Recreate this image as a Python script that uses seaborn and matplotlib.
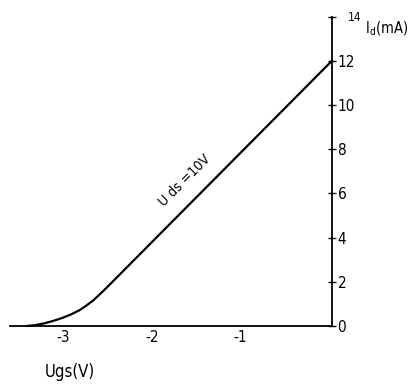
import numpy as np
import matplotlib
matplotlib.use("Agg")
import matplotlib.pyplot as plt
import matplotlib.transforms as mtransforms
import seaborn as sns

# transfer characteristic
ugs = [-3.45, -3.35, -3.25, -3.15, -3.05, -2.95, -2.85, -2.78, -2.70, -2.63,
       -2.56, -2.50, 0.0]
id_ma = [0.0, 0.04, 0.12, 0.23, 0.36, 0.52, 0.72, 0.91, 1.15, 1.41,
         1.68, 1.92, 12.0]

x_ticks = [-3.5, -3.0, -2.5, -2.0, -1.5, -1.0, -0.5]
x_labels = ["", "-3", "", "-2", "", "-1", ""]
y_ticks = [0, 2, 4, 6, 8, 10, 12, 14]
y_labels = ["0", "2", "4", "6", "8", "10", "12", ""]

sns.set_style("white")
plt.rcParams['font.family'] = ['DejaVu Sans']
plt.rcParams['font.stretch'] = 'condensed'
plt.rcParams['text.color'] = 'black'

fig = plt.figure(figsize=(4.11, 3.85), dpi=100)
ax = fig.add_axes([0, 0, 1, 1])
ax.patch.set_alpha(0)

sns.lineplot(x=ugs, y=id_ma, color='black', linewidth=1.6, ax=ax)

ax.set_xlim(-3.751, 0.893)
ax.set_ylim(-2.67, 14.75)

ax.spines['top'].set_visible(False)
ax.spines['left'].set_visible(False)
ax.spines['bottom'].set_position(('data', 0))
ax.spines['bottom'].set_bounds(-3.64, 0)
ax.spines['right'].set_position(('data', 0))
ax.spines['right'].set_bounds(0, 14)
for s in ['bottom', 'right']:
    ax.spines[s].set_color('black')
    ax.spines[s].set_linewidth(1.3)

ax.yaxis.tick_right()
ax.set_xticks(x_ticks)
ax.set_xticklabels(x_labels)
ax.set_yticks(y_ticks)
ax.set_yticklabels(y_labels)
ax.tick_params(axis='both', direction='inout', length=6, width=1, colors='black',
               labelsize=11)
ax.tick_params(axis='x', pad=0)
ax.tick_params(axis='y', pad=1)

# shift the x labels so the digit sits under the tick
offset = mtransforms.ScaledTranslation(-3 / 100, 0, fig.dpi_scale_trans)
for lbl in ax.get_xticklabels():
    lbl.set_transform(lbl.get_transform() + offset)

ax.text(0.18, 13.98, "14", fontsize=8.5, ha='left', va='center')
ax.text(0.37, 13.45, "I$_\\mathregular{d}$(mA)", fontsize=10.5, ha='left', va='center')
ax.text(-2.96, -2.08, "Ugs(V)", fontsize=12, ha='center', va='center')
ax.text(-1.66, 6.6, "U ds =10V", fontsize=10, rotation=45,
        rotation_mode='anchor', ha='center', va='center')

ax.set_xlabel('')
ax.set_ylabel('')
fig.savefig("out.png", dpi=100)
